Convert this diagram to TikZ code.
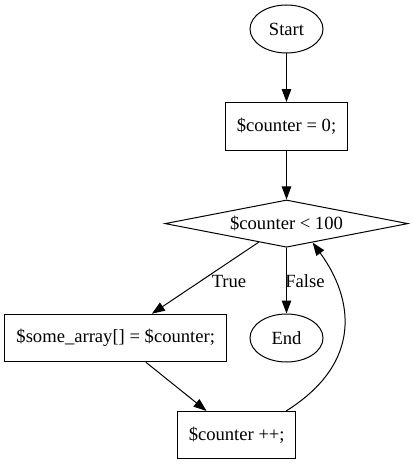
\documentclass[tikz,border=0pt]{standalone}
\usepackage{fontspec}
\setmainfont{Liberation Serif}
\usetikzlibrary{shapes.geometric,arrows.meta}
\tikzset{
  base/.style={draw=black, line width=1pt, inner sep=0pt, font=\fontsize{18.6}{22}\selectfont},
  oval/.style={base, ellipse, minimum width=73pt, minimum height=48pt},
  stepbox/.style={base, rectangle, minimum height=47.5pt},
  decision/.style={base, diamond, aspect=5.15, minimum width=243pt, minimum height=47.3pt},
  edgelabel/.style={font=\fontsize{18.6}{22}\selectfont, inner sep=0pt},
  arrowline/.style={draw=black, line width=1pt, -{Triangle[length=13pt,width=9.5pt]}}
}
\begin{document}
\begin{tikzpicture}[x=1pt,y=-1pt]
\useasboundingbox (0,0) rectangle (412,465);
\node[oval] (start) at (286.5,29) {Start};
\node[stepbox, minimum width=122pt] (init) at (286.5,126.3) {\$counter = 0;};
\node[decision] (dia) at (286.5,223.6) {\$counter < 100};
\node[stepbox, minimum width=222pt] (arr) at (115.7,338) {\$some\_array[] = \$counter;};
\node[oval] (end) at (286.5,338) {End};
\node[stepbox, minimum width=118pt] (inc) at (236.7,435.2) {\$counter ++;};
\node[edgelabel] (tl) at (229,281) {True};
\node[edgelabel] (fl) at (305,281) {False};
\draw[arrowline] (start) -- (init);
\draw[arrowline] (init) -- (dia);
\draw[arrowline] (dia) -- (arr);
\draw[arrowline] (dia) -- (end);
\draw[arrowline] (arr) -- (inc);
\draw[arrowline] ([xshift=-10pt]inc.north east) .. controls (364,362) and (353,298) .. (dia.-36);
\end{tikzpicture}
\end{document}
